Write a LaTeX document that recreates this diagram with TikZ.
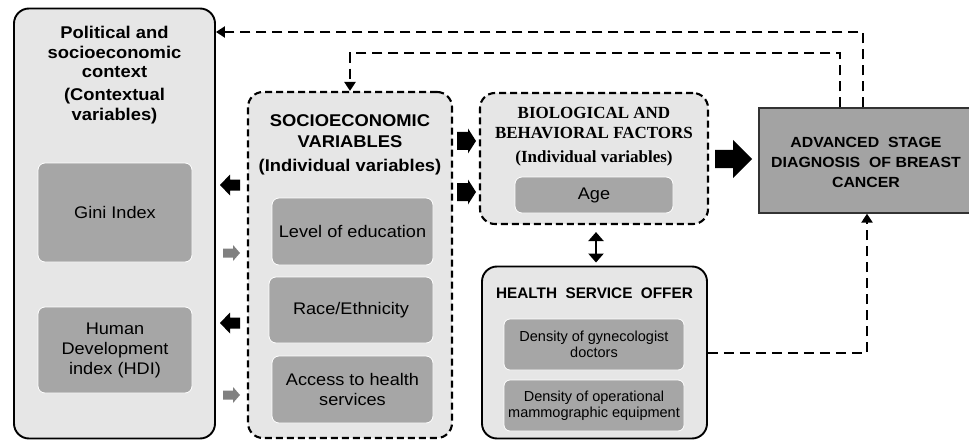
\documentclass[tikz,border=0pt]{standalone}
\usepackage{fontspec}
\setmainfont{Liberation Sans}
\newfontfamily\hsans[FakeStretch=1.08]{Liberation Sans}
\newfontfamily\hserif{Liberation Serif}
\usetikzlibrary{arrows.meta,calc}
\definecolor{boxlight}{HTML}{E6E6E6}
\definecolor{boxdark}{HTML}{A6A6A6}
\definecolor{advfill}{HTML}{A3A3A3}
\definecolor{arrgray}{HTML}{808080}
\newcommand\myfs[2]{\fontsize{#1}{#2}\selectfont}
% x, y, rotation, length, shaft half, head half, head length, colour
\newcommand\blockarr[8]{\fill[#8,shift={(#1,#2)},rotate=#3] (0,-#5) -- (#4-#7,-#5) -- (#4-#7,-#6) -- (#4,0) -- (#4-#7,#6) -- (#4-#7,#5) -- (0,#5) -- cycle;}
\begin{document}
\begin{tikzpicture}[x=1pt,y=-1pt,
  outerbox/.style={draw=black,line width=1.9pt,fill=boxlight,rounded corners=15pt,inner sep=0pt},
  dashbox/.style={draw=black,line width=2.1pt,fill=boxlight,rounded corners=15pt,dash pattern=on 7pt off 4pt,inner sep=0pt},
  innerbox/.style={draw=white,line width=0.8pt,fill=boxdark,rounded corners=7pt,align=center,inner sep=0pt,font=\hsans\myfs{16.8}{20}},
  smallbox/.style={draw=white,line width=0.8pt,fill=boxdark,rounded corners=6pt,align=center,inner sep=0pt,font=\myfs{14.5}{16}},
  ttl/.style={align=center,inner sep=0pt,font=\hsans\bfseries\myfs{17}{19.5}},
  sttl/.style={align=center,inner sep=0pt,font=\hserif\bfseries\myfs{17}{20}},
  dconn/.style={line width=2.8pt,dash pattern=on 10pt off 6pt,-{Triangle[width=11pt,length=9pt]}},
]
\useasboundingbox (0,0) rectangle (969,441);

% contextual box
\node[outerbox,minimum width=201pt,minimum height=430pt] (ctx) at (114.5,223.5) {};
\node[ttl] (ctxt1) at (114.5,52) {Political and\\socioeconomic\\context};
\node[ttl] (ctxt2) at (114.5,106) {(Contextual\\variables)};
\node[innerbox,minimum width=154pt,minimum height=99pt] (gini) at (115,212.5) {Gini Index};
\node[innerbox,minimum width=154pt,minimum height=86pt] (hdi) at (115,350) {Human\\Development\\index (HDI)};

% socioeconomic box
\node[dashbox,minimum width=204pt,minimum height=346pt] (socio) at (350,265) {};
\node[ttl,font=\hsans\bfseries\myfs{17}{20.5}] (sociot1) at (350,131) {SOCIOECONOMIC\\VARIABLES};
\node[ttl] (sociot2) at (350,167) {(Individual variables)};
\node[innerbox,minimum width=161pt,minimum height=67pt] (level) at (352.5,231.5) {Level of education};
\node[innerbox,minimum width=164pt,minimum height=66pt] (race) at (351,310) {Race/Ethnicity};
\node[innerbox,minimum width=161pt,minimum height=67pt] (access) at (352.5,389.5) {Access to health\\services};

% biological box
\node[dashbox,minimum width=228pt,minimum height=131pt] (bio) at (594,158.5) {};
\node[sttl] (biot1) at (594,123) {BIOLOGICAL AND\\BEHAVIORAL FACTORS};
\node[sttl] (biot2) at (594,158) {(Individual variables)};
\node[innerbox,minimum width=158pt,minimum height=36pt] (age) at (594,195) {Age};

% health service box
\node[outerbox,minimum width=225pt,minimum height=172pt] (health) at (594.5,352.5) {};
\node[inner sep=0pt,font=\bfseries\myfs{15.3}{18}] (healtht) at (594.5,293) {HEALTH\ \ SERVICE\ \ OFFER};
\node[smallbox,minimum width=180pt,minimum height=51pt] (gyn) at (594,344.5) {Density of gynecologist\\doctors};
\node[smallbox,minimum width=180pt,minimum height=51pt] (mammo) at (594,405.5) {Density of operational\\mammographic equipment};

% outcome box
\node[draw=black!80,line width=1.3pt,fill=advfill,minimum width=213pt,minimum height=105pt,inner sep=0pt] (adv) at (865.5,160.5) {};
\node[align=center,inner sep=0pt,font=\hsans\bfseries\myfs{14.7}{20}] (advt) at (866,162) {ADVANCED\ \ STAGE\\DIAGNOSIS\ \ OF BREAST\\CANCER};

% block arrows
\blockarr{240}{185}{180}{20}{5.5}{10.5}{10}{black}
\blockarr{223}{253}{0}{17}{4.5}{8}{7}{arrgray}
\blockarr{240}{323}{180}{20}{5.5}{10.5}{10}{black}
\blockarr{223}{395}{0}{17}{4.5}{8}{7}{arrgray}
\blockarr{457}{141}{0}{19}{9}{12.5}{8}{black}
\blockarr{457}{192}{0}{19}{9}{12.5}{8}{black}
\blockarr{715}{159}{0}{37}{9}{19}{19}{black}

% double arrow
\draw[line width=2.8pt,{Triangle[width=15pt,length=9pt]}-{Triangle[width=15pt,length=9pt]},shorten <=7pt,shorten >=3pt]
  (bio.south -| 596,0) -- (health.north -| 596,0);

% dashed connectors
\draw[dconn] (adv.north -| 863,0) |- (ctx.east |- 0,32);
\draw[dconn] (adv.north -| 840,0) -- (840,53) -| (socio.north -| 350,0);
\draw[dconn] (health.east |- 0,353) -| (adv.south -| 867,0);
\end{tikzpicture}
\end{document}
